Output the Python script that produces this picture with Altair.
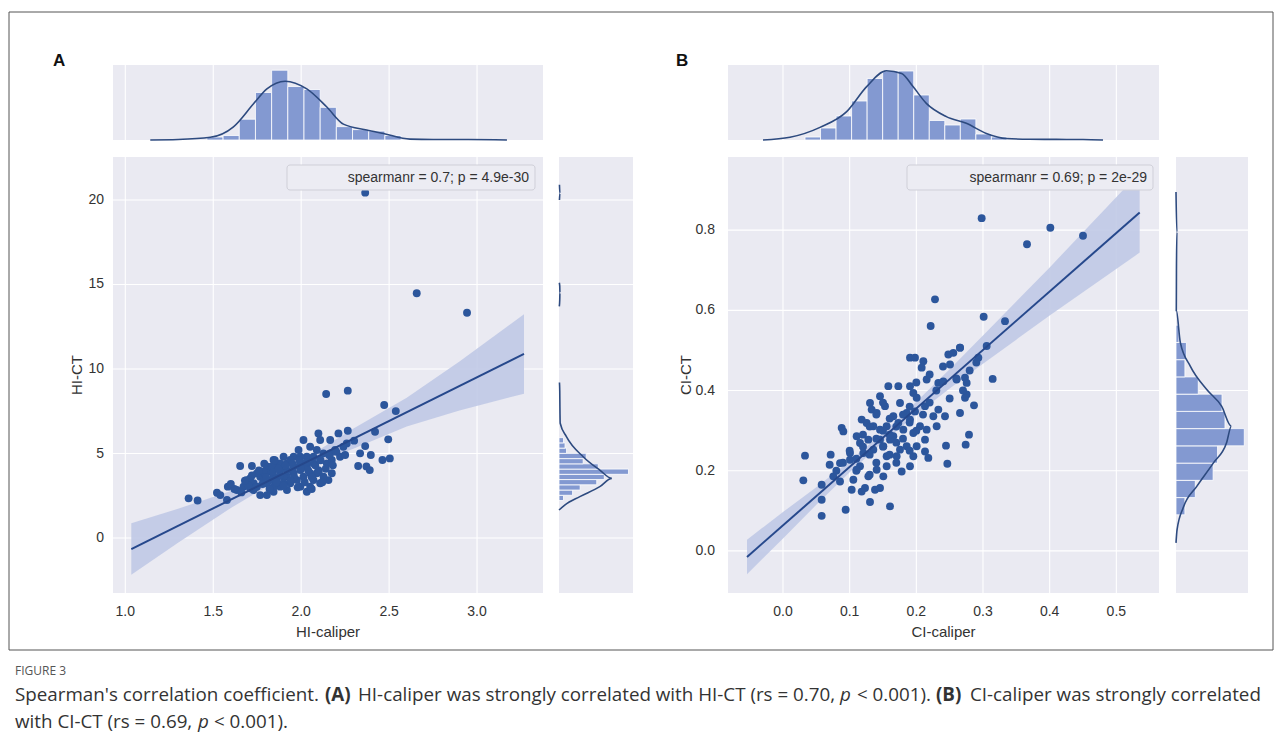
import altair as alt
import pandas as pd

# ---------------- data: panel A (HI) ----------------
A_X = [1.360, 1.411, 1.521, 1.540, 1.578, 1.583, 1.653, 1.720, 1.634, 1.689,
       1.729, 1.767, 1.805, 1.843, 1.805, 1.767, 1.805, 1.843, 1.900, 1.881,
       1.919, 1.957, 1.995, 2.032, 2.013, 2.098, 2.108, 2.165, 2.212, 2.265,
       2.259, 2.221, 2.250, 2.142, 2.265, 2.472, 2.538, 2.420, 2.495, 2.301,
       2.364, 2.335, 2.396, 2.324, 2.371, 2.390, 2.462, 2.504, 2.174, 2.155,
       2.032, 2.070, 2.098, 2.146, 2.193, 2.165, 2.089, 2.051, 1.985, 1.957,
       1.919, 1.862, 1.824, 1.748, 1.710, 1.672, 1.729, 1.862, 1.900, 1.938,
       1.976, 2.013, 2.051, 1.995, 1.919, 1.881, 1.843, 1.786, 1.957, 1.995,
       2.032, 2.070, 2.108, 2.127, 2.070, 1.995, 1.938, 1.881, 1.834, 1.786,
       1.843, 2.089, 2.127, 2.108, 1.710, 1.748, 2.051, 1.900, 1.824, 2.174,
       2.364, 2.657, 2.943,
       1.80, 1.84, 1.88, 1.92, 1.96, 2.00, 2.04, 2.08, 1.86, 1.90,
       1.94, 1.98, 2.02, 2.06, 2.10, 2.14, 1.78, 1.74, 1.82, 1.70,
       1.66, 1.62, 1.60, 1.95, 1.99, 2.03, 1.91, 1.87, 2.11, 2.16,
       2.20, 2.24, 2.18, 2.12, 2.06, 1.85, 1.79, 1.76, 1.72, 1.68]
A_Y = [2.35, 2.22, 2.68, 2.54, 2.25, 3.04, 4.26, 4.26, 2.84, 3.43,
       2.84, 2.54, 2.54, 2.74, 3.24, 3.63, 4.24, 4.62, 4.81, 4.02,
       3.63, 3.83, 4.42, 4.81, 5.80, 6.19, 5.80, 5.80, 6.19, 6.35,
       5.60, 4.81, 4.91, 8.52, 8.72, 7.87, 7.51, 6.29, 5.84, 5.76,
       5.44, 5.01, 4.91, 4.26, 4.24, 4.02, 4.62, 4.71, 3.83, 3.43,
       2.74, 3.43, 4.02, 4.42, 5.21, 5.01, 5.21, 5.40, 5.21, 4.81,
       4.42, 4.32, 3.92, 3.83, 3.53, 3.04, 3.24, 3.43, 3.63, 3.24,
       3.43, 3.63, 3.83, 3.04, 2.84, 3.04, 3.63, 3.92, 4.24, 4.02,
       4.24, 4.42, 4.62, 5.01, 4.81, 4.81, 4.62, 4.42, 4.24, 3.43,
       3.04, 3.83, 3.63, 3.24, 2.94, 3.04, 3.04, 3.24, 3.43, 4.62,
       20.43, 14.48, 13.33,
       3.6, 3.9, 3.7, 4.0, 3.6, 4.1, 4.0, 4.3, 3.3, 3.1,
       3.4, 3.0, 3.3, 3.6, 3.9, 4.1, 3.2, 3.0, 2.9, 3.1,
       2.7, 2.9, 3.2, 4.4, 4.6, 4.5, 4.3, 4.1, 4.6, 4.9,
       5.1, 5.4, 4.3, 3.3, 2.9, 4.6, 4.4, 4.0, 3.7, 3.4]

A_LINE_X = [1.034, 3.267]
A_LINE_Y = [-0.65, 10.89]
A_BAND_X = [1.034, 1.3, 1.6, 1.8, 1.95, 2.1, 2.3, 2.6, 2.9, 3.267]
A_BAND_LO = [-2.17, -0.28, 1.78, 3.01, 3.84, 4.51, 5.30, 6.60, 7.55, 8.54]
A_BAND_HI = [0.87, 1.73, 2.78, 3.61, 4.34, 5.21, 6.50, 8.30, 10.45, 13.24]

A_TOP_LO = [1.464, 1.556, 1.648, 1.740, 1.832, 1.924, 2.016, 2.108, 2.200, 2.292, 2.384, 2.476]
A_TOP_HI = [1.556, 1.648, 1.740, 1.832, 1.924, 2.016, 2.108, 2.200, 2.292, 2.384, 2.476, 2.568]
A_TOP_N = [2, 3, 14, 32, 47, 36, 34, 22, 9, 7, 6, 3]
A_TOP_KX = [1.142, 1.30, 1.483, 1.615, 1.729, 1.805, 1.909, 2.032, 2.146, 2.240, 2.373, 2.468, 2.619, 2.75, 2.95, 3.17]
A_TOP_KY = [0.0, 0.3, 1.8, 8.9, 24.4, 34.4, 39.6, 34.4, 22.2, 10.7, 6.7, 4.4, 0.6, 0.3, 0.3, 0.0]

A_RIGHT_LO = [2.22, 2.53, 2.84, 3.15, 3.46, 3.77, 4.08, 4.39, 4.70, 5.01, 5.32, 5.63]
A_RIGHT_HI = [2.53, 2.84, 3.15, 3.46, 3.77, 4.08, 4.39, 4.70, 5.01, 5.32, 5.63, 5.94]
A_RIGHT_N = [3, 9, 14, 25, 30, 46, 26, 16, 18, 5, 4, 3]
# KDE pieces drawn where the curve leaves the panel edge
A_RIGHT_KY = [1.66, 1.95, 2.45, 3.04, 3.53, 4.02, 4.81, 6.0, 6.79, 7.8, 8.7, 9.2,
              13.7, 14.1, 14.5, 14.9, 15.1,
              20.0, 20.4, 20.9]
A_RIGHT_KX = [0.0, 3.8, 13.8, 27.0, 35.0, 27.0, 16.0, 4.9, 0.8, 0.6, 0.5, 0.3,
              0.2, 0.5, 0.6, 0.5, 0.2,
              0.3, 0.6, 0.3]
A_RIGHT_KSEG = [0] * 12 + [1] * 5 + [2] * 3

# ---------------- data: panel B (CI) ----------------
B_X = [0.033, 0.0305, 0.0715, 0.058, 0.058, 0.058, 0.094, 0.088, 0.0905, 0.0755,
       0.0855, 0.1005, 0.1055, 0.103, 0.118, 0.1305, 0.123, 0.1455, 0.1605, 0.1155,
       0.1105, 0.118, 0.1305, 0.133, 0.1455, 0.158, 0.153, 0.1355, 0.1455, 0.1355,
       0.1505, 0.1405, 0.1505, 0.1555, 0.1655, 0.173, 0.1755, 0.173, 0.1905, 0.1955,
       0.2005, 0.1905, 0.198, 0.2105, 0.208, 0.2155, 0.1905, 0.1805, 0.1955, 0.1855,
       0.1755, 0.1955, 0.1905, 0.178, 0.2055, 0.213, 0.213, 0.2155, 0.213, 0.2255,
       0.233, 0.2305, 0.2445, 0.2465, 0.243, 0.233, 0.2405, 0.2505, 0.248, 0.2555,
       0.2655, 0.2655, 0.2605, 0.273, 0.2755, 0.2755, 0.273, 0.2865, 0.279, 0.274,
       0.293, 0.3055, 0.3145, 0.1205, 0.128, 0.1555, 0.1655, 0.1405, 0.1255, 0.1005,
       0.1105, 0.128, 0.138, 0.1555, 0.1705, 0.1605, 0.1855, 0.198, 0.2005, 0.218,
       0.0855, 0.1155, 0.1455,
       0.298, 0.401, 0.450, 0.366, 0.228, 0.2215, 0.301, 0.333, 0.2655,
       0.14, 0.15, 0.16, 0.17, 0.15, 0.13, 0.12, 0.16, 0.18, 0.17,
       0.14, 0.11, 0.19, 0.20, 0.21, 0.13, 0.12, 0.16, 0.18, 0.14,
       0.10, 0.09, 0.22, 0.23, 0.19, 0.15, 0.17, 0.13, 0.11, 0.19,
       0.08, 0.07, 0.20, 0.22, 0.24, 0.26, 0.28, 0.25, 0.27, 0.29]
B_Y = [0.2375, 0.176, 0.24, 0.165, 0.1275, 0.0875, 0.1025, 0.307, 0.298, 0.186,
       0.219, 0.244, 0.1775, 0.1525, 0.148, 0.122, 0.157, 0.157, 0.111, 0.211,
       0.286, 0.3275, 0.369, 0.3525, 0.386, 0.411, 0.361, 0.311, 0.2775, 0.2525,
       0.261, 0.2025, 0.186, 0.211, 0.286, 0.319, 0.369, 0.411, 0.411, 0.394,
       0.382, 0.482, 0.482, 0.473, 0.457, 0.4275, 0.3275, 0.3025, 0.294, 0.261,
       0.2525, 0.236, 0.211, 0.198, 0.311, 0.2775, 0.248, 0.3025, 0.361, 0.336,
       0.3525, 0.311, 0.2625, 0.2175, 0.336, 0.419, 0.423, 0.465, 0.49, 0.494,
       0.507, 0.344, 0.4275, 0.432, 0.419, 0.39, 0.382, 0.363, 0.29, 0.265,
       0.482, 0.511, 0.429, 0.244, 0.2775, 0.311, 0.336, 0.344, 0.319, 0.2275,
       0.2025, 0.186, 0.1525, 0.236, 0.236, 0.2775, 0.344, 0.348, 0.261, 0.232,
       0.173, 0.269, 0.3025,
       0.83, 0.806, 0.786, 0.765, 0.6275, 0.561, 0.584, 0.573, 0.507,
       0.28, 0.30, 0.29, 0.31, 0.26, 0.24, 0.26, 0.33, 0.34, 0.27,
       0.22, 0.23, 0.32, 0.30, 0.34, 0.31, 0.29, 0.24, 0.28, 0.34,
       0.25, 0.22, 0.37, 0.40, 0.36, 0.37, 0.22, 0.19, 0.20, 0.25,
       0.20, 0.215, 0.42, 0.44, 0.46, 0.43, 0.45, 0.38, 0.40, 0.47]

B_LINE_X = [-0.054, 0.535]
B_LINE_Y = [-0.015, 0.844]
B_BAND_X = [-0.054, 0.0, 0.05, 0.1, 0.15, 0.2, 0.25, 0.3, 0.4, 0.535]
B_BAND_LO = [-0.058, 0.031, 0.115, 0.196, 0.271, 0.340, 0.405, 0.467, 0.587, 0.744]
B_BAND_HI = [0.028, 0.097, 0.159, 0.224, 0.295, 0.372, 0.453, 0.537, 0.707, 0.944]

B_TOP_LO = [0.033, 0.0563, 0.0796, 0.1029, 0.1262, 0.1495, 0.1728, 0.1961, 0.2194, 0.2427, 0.266, 0.2893, 0.3126]
B_TOP_HI = [0.0563, 0.0796, 0.1029, 0.1262, 0.1495, 0.1728, 0.1961, 0.2194, 0.2427, 0.266, 0.2893, 0.3126, 0.3359]
B_TOP_N = [2, 8, 16, 26, 41, 46, 46, 30, 13, 10, 14, 4, 2]
B_TOP_KX = [-0.03, 0.0105, 0.0555, 0.0955, 0.1255, 0.155, 0.178, 0.195, 0.215, 0.245, 0.275, 0.305, 0.335, 0.37, 0.41, 0.45, 0.48]
B_TOP_KY = [0.0, 1.8, 8.4, 18.9, 35.6, 46.2, 44.4, 35.6, 24.4, 15.6, 11.1, 4.4, 1.0, 0.5, 0.4, 0.3, 0.0]

B_RIGHT_LO = [0.090, 0.133, 0.176, 0.219, 0.262, 0.305, 0.348, 0.391, 0.434, 0.477, 0.520]
B_RIGHT_HI = [0.133, 0.176, 0.219, 0.262, 0.305, 0.348, 0.391, 0.434, 0.477, 0.520, 0.563]
B_RIGHT_N = [6, 13, 25, 28, 46, 33, 31, 15, 6, 7, 2]
B_RIGHT_KY = [0.02, 0.0525, 0.11, 0.161, 0.219, 0.269, 0.311, 0.361, 0.4025, 0.461, 0.52, 0.60, 0.70, 0.795, 0.895]
B_RIGHT_KX = [0.0, 0.7, 5.1, 14.0, 25.1, 34.0, 37.3, 30.7, 20.7, 9.6, 2.9, 0.2, 0.3, 0.6, 0.0]
B_RIGHT_KSEG = [0] * 15

# ---------------- tick labels / texts ----------------
A_XTICKS = [1.0, 1.5, 2.0, 2.5, 3.0]
A_YTICKS = [0, 5, 10, 15, 20]
B_XTICKS = [0.0, 0.1, 0.2, 0.3, 0.4, 0.5]
B_YTICKS = [0.0, 0.2, 0.4, 0.6, 0.8]
A_STAT = "spearmanr = 0.7; p = 4.9e-30"
B_STAT = "spearmanr = 0.69; p = 2e-29"

# ---------------- layout (chart pixel coords) ----------------
A_XD, A_YD = [0.93, 3.375], [-3.25, 22.54]
B_XD, B_YD = [-0.0825, 0.564], [-0.105, 0.9825]
A_XR, B_XR = [105, 535], [720, 1151]
MAIN_YR = [585, 149]
TOP_YR = [132, 57]
A_RXR, B_RXR = [551, 625], [1168, 1240]
A_TOPD, B_TOPD = [0, 50.5], [0, 50]
A_RD, B_RD = [0, 49], [0, 48.5]

BG = "#EAEAF2"
PT = "#2c569c"
LINE = "#26488c"
BAND = "#c0c9e6"
HIST = "#8399d1"
KDE = "#2d4a7f"
TXT = "#333333"
FONT = "Liberation Sans"
CAPFONT = "Open Sans"


def S(d, r):
    return alt.Scale(domain=d, range=r, nice=False, zero=False)


def X(f, d, r):
    return alt.X(f, type="quantitative", scale=S(d, r), axis=None)


def Y(f, d, r):
    return alt.Y(f, type="quantitative", scale=S(d, r), axis=None)


ONE = pd.DataFrame({"a": [0]})
layers = []


def bg(xd, yd, xr, yr):
    df = pd.DataFrame({"x0": [xd[0]], "x1": [xd[1]], "y0": [yd[0]], "y1": [yd[1]]})
    return alt.Chart(df).mark_rect(color=BG).encode(
        x=X("x0", xd, xr), x2="x1", y=Y("y0", yd, yr), y2="y1")


def vgrid(ticks, xd, yd, xr, yr):
    df = pd.DataFrame({"v": ticks, "y0": yd[0], "y1": yd[1]})
    return alt.Chart(df).mark_rule(color="white", strokeWidth=1.1).encode(
        x=X("v", xd, xr), y=Y("y0", yd, yr), y2="y1")


def hgrid(ticks, xd, yd, xr, yr):
    df = pd.DataFrame({"v": ticks, "x0": xd[0], "x1": xd[1]})
    return alt.Chart(df).mark_rule(color="white", strokeWidth=1.1).encode(
        y=Y("v", yd, yr), x=X("x0", xd, xr), x2="x1")


def txt(s, x, y, size=14, weight="normal", style="normal", align="left",
        angle=0, font=FONT, color=TXT):
    kw = dict(text=s, fontSize=size, fontWeight=weight, fontStyle=style,
              align=align, baseline="middle", font=font, color=color)
    if angle:
        kw["angle"] = angle
    return alt.Chart(ONE).mark_text(**kw).encode(x=alt.value(x), y=alt.value(y))


def panel(P):
    xd, yd, xr = P["xd"], P["yd"], P["xr"]
    rxr = P["rxr"]
    L = []
    L.append(bg(xd, yd, xr, MAIN_YR))
    L.append(bg(xd, P["topd"], xr, TOP_YR))
    L.append(bg(P["rd"], yd, rxr, MAIN_YR))
    L.append(vgrid(P["xt"], xd, yd, xr, MAIN_YR))
    L.append(hgrid(P["yt"], xd, yd, xr, MAIN_YR))
    L.append(vgrid(P["xt"], xd, P["topd"], xr, TOP_YR))
    L.append(hgrid(P["yt"], P["rd"], yd, rxr, MAIN_YR))
    band = pd.DataFrame({"x": P["bx"], "lo": P["blo"], "hi": P["bhi"]})
    L.append(alt.Chart(band).mark_area(color=BAND, opacity=0.9).encode(
        x=X("x", xd, xr), y=Y("lo", yd, MAIN_YR), y2="hi"))
    pts = pd.DataFrame({"x": P["px"], "y": P["py"]})
    L.append(alt.Chart(pts).mark_circle(size=62, color=PT, opacity=1).encode(
        x=X("x", xd, xr), y=Y("y", yd, MAIN_YR)))
    ln = pd.DataFrame({"x": P["lx"], "y": P["ly"]})
    L.append(alt.Chart(ln).mark_line(color=LINE, strokeWidth=2).encode(
        x=X("x", xd, xr), y=Y("y", yd, MAIN_YR)))
    th = pd.DataFrame({"lo": P["tlo"], "hi": P["thi"], "n": P["tn"], "z": 0})
    L.append(alt.Chart(th).mark_rect(color=HIST, stroke="white", strokeWidth=0.8).encode(
        x=X("lo", xd, xr), x2="hi", y=Y("z", P["topd"], TOP_YR), y2="n"))
    tk = pd.DataFrame({"x": P["tkx"], "d": P["tky"], "i": range(len(P["tkx"]))})
    L.append(alt.Chart(tk).mark_line(color=KDE, strokeWidth=1.6, interpolate="monotone").encode(
        x=X("x", xd, xr), y=Y("d", P["topd"], TOP_YR), order="i:Q"))
    rh = pd.DataFrame({"lo": P["rlo"], "hi": P["rhi"], "n": P["rn"], "z": 0})
    L.append(alt.Chart(rh).mark_rect(color=HIST, stroke="white", strokeWidth=0.8).encode(
        y=Y("lo", yd, MAIN_YR), y2="hi", x=X("z", P["rd"], rxr), x2="n"))
    rk = pd.DataFrame({"y": P["rky"], "d": P["rkx"], "s": P["rks"], "i": range(len(P["rky"]))})
    L.append(alt.Chart(rk).mark_line(color=KDE, strokeWidth=1.6, interpolate="monotone").encode(
        y=Y("y", yd, MAIN_YR), x=X("d", P["rd"], rxr), order="i:Q", detail="s:N"))
    xt = pd.DataFrame({"v": P["xt"], "t": [P["fmt"].format(v) for v in P["xt"]]})
    L.append(alt.Chart(xt).mark_text(font=FONT, fontSize=14, color=TXT, baseline="middle").encode(
        x=X("v", xd, xr), y=alt.value(604), text="t:N"))
    yt = pd.DataFrame({"v": P["yt"], "t": [P["yfmt"].format(v) for v in P["yt"]]})
    L.append(alt.Chart(yt).mark_text(font=FONT, fontSize=14, color=TXT, baseline="middle", align="right").encode(
        y=Y("v", yd, MAIN_YR), x=alt.value(P["ylx"]), text="t:N"))
    L.append(txt(P["xtitle"], (xr[0] + xr[1]) / 2, 624, size=15, align="center"))
    L.append(txt(P["ytitle"], P["ytx"], 367, size=15, align="center", angle=270))
    bx0, bx1 = P["box"]
    L.append(alt.Chart(ONE).mark_rect(fill="#ECECF3", stroke="#cfcfd8", strokeWidth=1, cornerRadius=3).encode(
        x=alt.value(bx0), x2=alt.value(bx1), y=alt.value(157), y2=alt.value(182)))
    L.append(txt(P["stat"], bx1 - 6, 169.5, size=14, align="right"))
    L.append(txt(P["letter"], P["lx0"], 53, size=17, weight="bold", color="#111111"))
    return L


PA = dict(xd=A_XD, yd=A_YD, xr=A_XR, rxr=A_RXR, topd=A_TOPD, rd=A_RD,
          xt=A_XTICKS, yt=A_YTICKS, bx=A_BAND_X, blo=A_BAND_LO, bhi=A_BAND_HI,
          px=A_X, py=A_Y, lx=A_LINE_X, ly=A_LINE_Y,
          tlo=A_TOP_LO, thi=A_TOP_HI, tn=A_TOP_N, tkx=A_TOP_KX, tky=A_TOP_KY,
          rlo=A_RIGHT_LO, rhi=A_RIGHT_HI, rn=A_RIGHT_N, rky=A_RIGHT_KY, rkx=A_RIGHT_KX,
          rks=A_RIGHT_KSEG,
          fmt="{:.1f}", yfmt="{:.0f}", ylx=96, xtitle="HI-caliper", ytitle="HI-CT",
          ytx=69, box=(279, 527), stat=A_STAT, letter="A", lx0=45)
PB = dict(xd=B_XD, yd=B_YD, xr=B_XR, rxr=B_RXR, topd=B_TOPD, rd=B_RD,
          xt=B_XTICKS, yt=B_YTICKS, bx=B_BAND_X, blo=B_BAND_LO, bhi=B_BAND_HI,
          px=B_X, py=B_Y, lx=B_LINE_X, ly=B_LINE_Y,
          tlo=B_TOP_LO, thi=B_TOP_HI, tn=B_TOP_N, tkx=B_TOP_KX, tky=B_TOP_KY,
          rlo=B_RIGHT_LO, rhi=B_RIGHT_HI, rn=B_RIGHT_N, rky=B_RIGHT_KY, rkx=B_RIGHT_KX,
          rks=B_RIGHT_KSEG,
          fmt="{:.1f}", yfmt="{:.1f}", ylx=707, xtitle="CI-caliper", ytitle="CI-CT",
          ytx=678, box=(899, 1145), stat=B_STAT, letter="B", lx0=668)

layers.append(alt.Chart(ONE).mark_rect(fill="white", stroke="#555555", strokeWidth=1).encode(
    x=alt.value(1), x2=alt.value(1265), y=alt.value(4), y2=alt.value(642)))
layers += panel(PA)
layers += panel(PB)

# caption
CAP = 18.8
Y1, Y2 = 687, 714
layers.append(txt("FIGURE 3", 7, 663, size=12, font=CAPFONT, color="#555555"))
layers.append(txt("Spearman's correlation coefficient.", 7, Y1, size=CAP, font=CAPFONT))
layers.append(txt("(A)", 317, Y1, size=CAP, font=CAPFONT, weight="bold"))
layers.append(txt("HI-caliper was strongly correlated with HI-CT (rs = 0.70,", 350, Y1, size=CAP, font=CAPFONT))
layers.append(txt("p", 832, Y1, size=CAP, font=CAPFONT, style="italic"))
layers.append(txt("< 0.001).", 849, Y1, size=CAP, font=CAPFONT))
layers.append(txt("(B)", 928, Y1, size=CAP, font=CAPFONT, weight="bold"))
layers.append(txt("CI-caliper was strongly correlated", 962, Y1, size=CAP, font=CAPFONT))
layers.append(txt("with CI-CT (rs = 0.69,", 7, Y2, size=CAP, font=CAPFONT))
layers.append(txt("p", 190, Y2, size=CAP, font=CAPFONT, style="italic"))
layers.append(txt("< 0.001).", 206, Y2, size=CAP, font=CAPFONT))

chart = alt.layer(*layers).resolve_scale(x="independent", y="independent").properties(
    width=1266, height=740, autosize=alt.AutoSizeParams(type="none"), padding=0,
    background="white").configure_view(stroke=None)

chart.save("out.html", embed_options={"renderer": "svg", "actions": False})
